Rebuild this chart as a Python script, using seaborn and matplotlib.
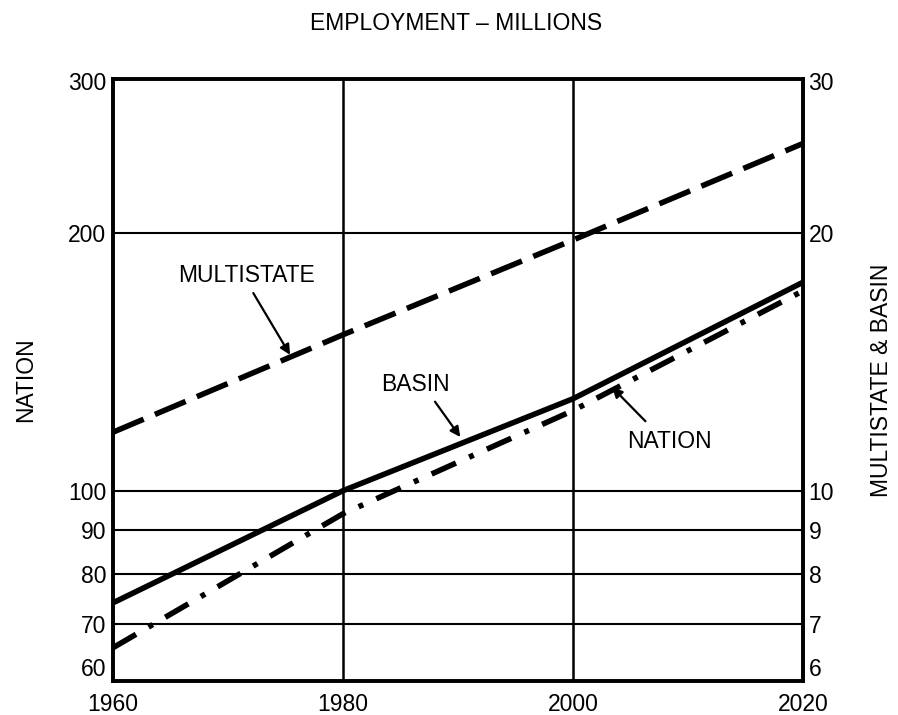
import numpy as np
import pandas as pd
import matplotlib
matplotlib.use("Agg")
import matplotlib.pyplot as plt
import seaborn as sns

years = [1960, 1980, 2000, 2020]
nation = [65.6, 94.0, 124.0, 171.0]          # left axis, millions
basin = [7.4, 10.0, 12.8, 17.5]              # right axis, millions
multistate = [11.7, 15.2, 19.6, 25.4]        # right axis, millions

left_ticks = [60, 70, 80, 90, 100, 200, 300]
right_ticks = [6, 7, 8, 9, 10, 20, 30]
x_ticks = [1960, 1980, 2000, 2020]

sns.set_style("white")
plt.rcParams['font.family'] = ['Liberation Sans', 'DejaVu Sans']
plt.rcParams['text.color'] = 'black'
plt.rcParams['xtick.color'] = 'black'
plt.rcParams['ytick.color'] = 'black'
plt.rcParams['axes.labelcolor'] = 'black'
FS = 16.5

fig = plt.figure(figsize=(8.98, 7.15), dpi=100)
ax = fig.add_axes([0.1258, 0.0476, 0.7684, 0.8419])

# Data in left-axis units (right axis = left * 10 scale factor)
df = pd.DataFrame({
    "year": years * 3,
    "value": nation + [v * 10 for v in basin] + [v * 10 for v in multistate],
    "series": ["NATION"] * 4 + ["BASIN"] * 4 + ["MULTISTATE"] * 4,
})

ax.set_yscale("log")
ax.set_xlim(1960, 2020)
ax.set_ylim(60, 302)

# grid lines
for g in [70, 80, 90, 100, 200]:
    ax.axhline(g, color="black", lw=1.5, zorder=1)
for g in [1980, 2000]:
    ax.axvline(g, color="black", lw=1.8, zorder=1)

LW = 4.0
sns.lineplot(data=df[df.series == "BASIN"], x="year", y="value", ax=ax,
             color="black", lw=LW, legend=False, zorder=3)
sns.lineplot(data=df[df.series == "NATION"], x="year", y="value", ax=ax,
             color="black", lw=LW, legend=False, zorder=3)
ax.lines[-1].set_dashes([4.8, 2.6, 0.9, 2.6])
sns.lineplot(data=df[df.series == "MULTISTATE"], x="year", y="value", ax=ax,
             color="black", lw=LW, legend=False, zorder=3)
ax.lines[-1].set_dashes([6, 2.2])
for ln in ax.lines[-3:]:
    ln.set_solid_capstyle("butt")
    ln.set_dash_capstyle("butt")

ax.set_yticks(left_ticks)
ax.set_yticklabels([str(t) for t in left_ticks])
ax.yaxis.set_minor_locator(matplotlib.ticker.NullLocator())
ax.set_xticks(x_ticks)
ax.set_xticklabels([str(t) for t in x_ticks])
ax.tick_params(axis="y", length=0, labelsize=FS, pad=5)
ax.tick_params(axis="x", length=0, labelsize=FS, pad=9)
ax.set_xlabel("")
ax.set_ylabel("NATION", fontsize=FS, labelpad=22)
for s in ax.spines.values():
    s.set_linewidth(2.6)
    s.set_color("black")

ax2 = ax.twinx()
ax2.set_yscale("log")
ax2.set_ylim(6, 30.2)
ax2.set_yticks(right_ticks)
ax2.set_yticklabels([str(t) for t in right_ticks])
ax2.yaxis.set_minor_locator(matplotlib.ticker.NullLocator())
ax2.tick_params(axis="y", length=0, labelsize=FS, pad=4)
ax2.set_ylabel("MULTISTATE & BASIN", fontsize=FS, labelpad=26)
for s in ax2.spines.values():
    s.set_linewidth(2.6)
    s.set_color("black")

# lowest labels sit just above the bottom frame
ax.get_yticklabels()[0].set_va("bottom")
ax2.get_yticklabels()[0].set_va("bottom")

fig.text(0.508, 0.967, "EMPLOYMENT – MILLIONS", fontsize=FS, ha="center", va="center")

arrow = dict(arrowstyle="-|>", color="black", lw=1.6, mutation_scale=15,
             shrinkA=0, shrinkB=0)
ax.text(1971.6, 178, "MULTISTATE", fontsize=FS, ha="center", va="center")
ax.annotate("", xy=(1975.4, 144), xytext=(1972.2, 170), arrowprops=arrow)
ax.text(1986.3, 133, "BASIN", fontsize=FS, ha="center", va="center")
ax.annotate("", xy=(1990.2, 115.5), xytext=(1988.0, 127), arrowprops=arrow)
ax.text(2008.4, 114, "NATION", fontsize=FS, ha="center", va="center")
ax.annotate("", xy=(2003.4, 132), xytext=(2006.3, 120.5), arrowprops=arrow)

fig.savefig("out.png", dpi=100)
